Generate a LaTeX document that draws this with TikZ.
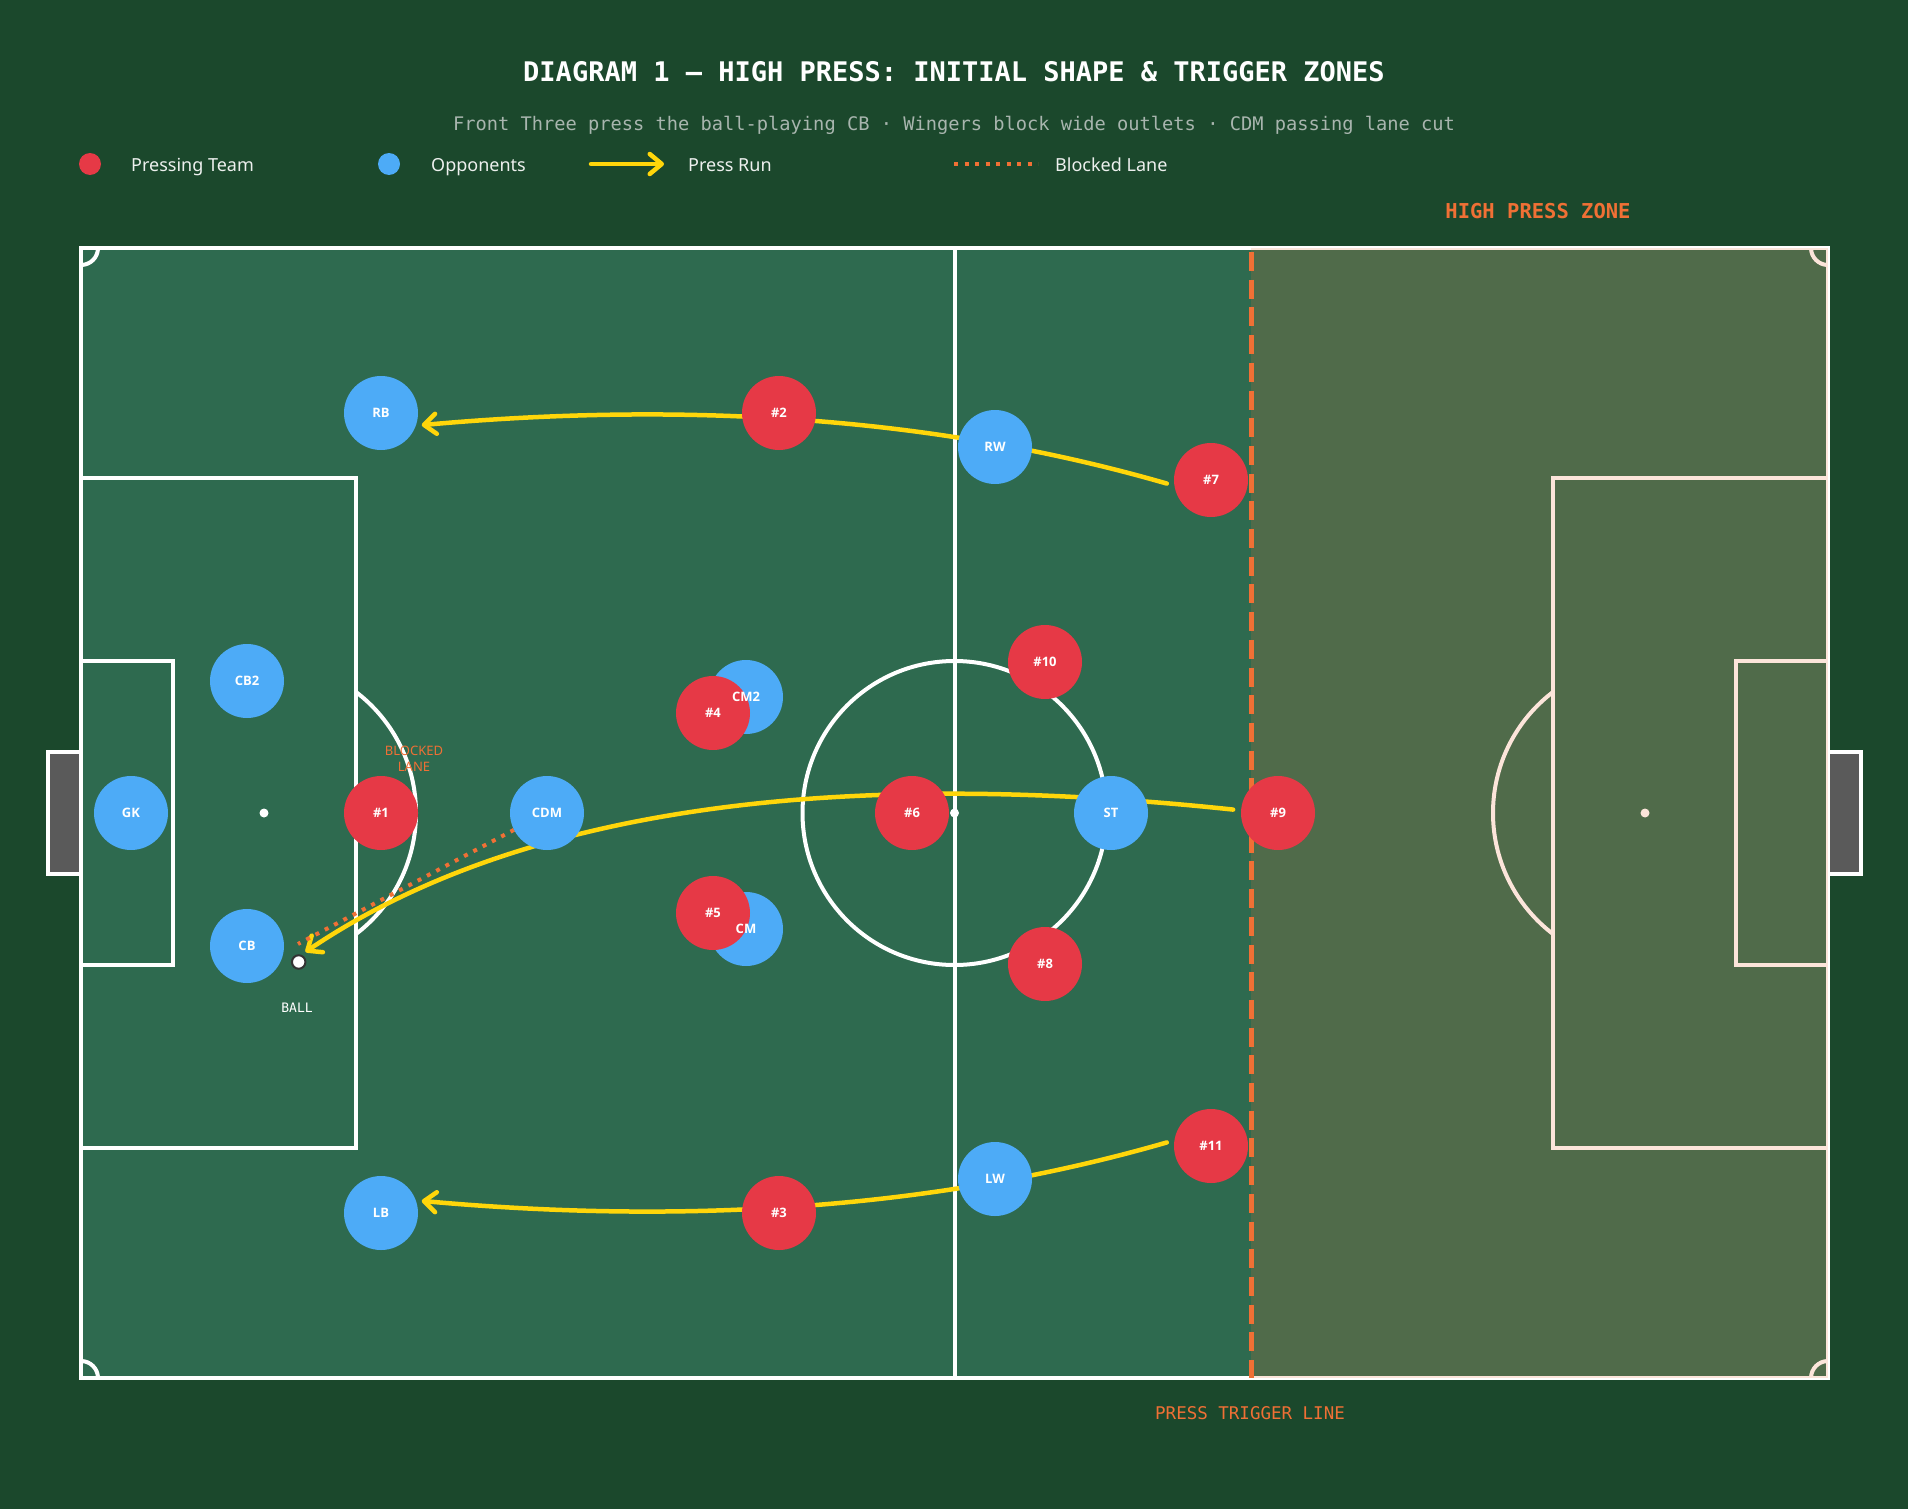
\documentclass[tikz,border=0pt]{standalone}
\usepackage{fontspec}
\setmainfont{Noto Sans}
\setmonofont{DejaVu Sans Mono}
\newfontfamily\tagfont{Open Sans}
\usetikzlibrary{arrows.meta}

\definecolor{bg}{HTML}{1B482C}
\definecolor{grass}{HTML}{2E6A4F}
\definecolor{pressred}{HTML}{E63946}
\definecolor{oppblue}{HTML}{4DABF7}
\definecolor{runyellow}{HTML}{FFD60A}
\definecolor{laneorange}{HTML}{F07035}
\definecolor{subgray}{HTML}{A8B5AE}
\definecolor{goalgray}{HTML}{5A5A5A}

\pgfdeclarelayer{pitch}
\pgfdeclarelayer{runs}
\pgfsetlayers{pitch,runs,main}

\begin{document}
\begin{tikzpicture}[x=1pt, y=-1pt,
    line/.style={white, line width=4pt},
    player/.style={circle, minimum size=74pt, inner sep=0pt, outer sep=0pt},
    press/.style={player, fill=pressred},
    opp/.style={player, fill=oppblue},
    tag/.style={text=white, font=\tagfont\bfseries\fontsize{13}{15}\selectfont},
    legtext/.style={anchor=base west, inner sep=0pt, text=white!92!bg, font=\fontsize{18}{20}\selectfont},
    run/.style={runyellow, line width=4.5pt, line cap=round, -{Straight Barb[length=12pt, width=20pt, round]}},
    lane/.style={laneorange, line width=4pt, dash pattern=on 4pt off 6.5pt}]

  \useasboundingbox (0,0) rectangle (1908,1509);

  % pitch
  \begin{pgfonlayer}{pitch}
    \fill[bg] (0,0) rectangle (1908,1509);
    \fill[grass] (81,248) rectangle (1828,1378);
    \filldraw[fill=goalgray, draw=white, line width=4pt] (48,752) rectangle (81,874);
    \filldraw[fill=goalgray, draw=white, line width=4pt] (1828,752) rectangle (1861,874);
    \draw[line] (81,248) rectangle (1828,1378);
    \draw[line] (954.5,248) -- (954.5,1378);
    \draw[line] (954.5,813) circle[radius=152];
    \draw[line] (81,478) rectangle (356,1148);
    \draw[line] (81,661) rectangle (173,965);
    \draw[line] (1553,478) rectangle (1828,1148);
    \draw[line] (1736,661) rectangle (1828,965);
    \foreach \x in {264,954.5,1645}
      \fill[white] (\x,813) circle[radius=4.5];
    \begin{scope}
      \clip (356,600) rectangle (520,1030);
      \draw[line] (264,813) circle[radius=152];
    \end{scope}
    \begin{scope}
      \clip (1553,600) rectangle (1390,1030);
      \draw[line] (1645,813) circle[radius=152];
    \end{scope}
    \begin{scope}
      \clip (81,248) rectangle (1828,1378);
      \foreach \cx/\cy in {81/248, 1828/248, 81/1378, 1828/1378}
        \draw[line] (\cx,\cy) circle[radius=17];
    \end{scope}
    % high press zone
    \fill[laneorange, fill opacity=0.18] (1251,248) rectangle (1828,1378);
    \draw[laneorange, line width=5pt, dash pattern=on 19pt off 8.7pt] (1251,252) -- (1251,1378);
  \end{pgfonlayer}

  % titles and legend
  \node[white, font=\ttfamily\bfseries\fontsize{27}{30}\selectfont] (title) at (954,72)
    {DIAGRAM 1 — HIGH PRESS: INITIAL SHAPE \& TRIGGER ZONES};
  \node[anchor=base, subgray, font=\ttfamily\fontsize{18.7}{22}\selectfont] (subtitle) at (954,131)
    {Front Three press the ball-playing CB · Wingers block wide outlets · CDM passing lane cut};
  \fill[pressred] (90,164) circle[radius=11];
  \node[legtext] at (131,171) {Pressing Team};
  \fill[oppblue] (389,164) circle[radius=11];
  \node[legtext] at (431,171) {Opponents};
  \draw[run] (591,164) -- (664,164);
  \node[legtext] at (688,171) {Press Run};
  \draw[lane] (954,164) -- (1038,164);
  \node[legtext] at (1055,171) {Blocked Lane};

  \node[anchor=base, text=laneorange, font=\ttfamily\bfseries\fontsize{20.5}{24}\selectfont] (zone) at (1538,218) {HIGH PRESS ZONE};
  \node[anchor=base, text=laneorange, font=\ttfamily\fontsize{17.5}{20}\selectfont] (trigger) at (1250,1419) {PRESS TRIGGER LINE};

  % players
  \foreach \nm/\x/\y in {GK/131/813, CB2/247/681, CB/247/946, CDM/547/813, CM2/746/697, CM/746/929,
                         RB/381/413, LB/381/1213, RW/995/447, LW/995/1179, ST/1111/813}
    \node[opp] (\nm) at (\x,\y) {};
  \foreach \n/\x/\y in {1/381/813, 2/779/413, 3/779/1213, 4/713/713, 5/713/913, 6/912/813,
                        7/1211/480, 8/1045/964, 9/1278/813, 10/1045/662, 11/1211/1146}
    \node[press] (p\n) at (\x,\y) {};
  \foreach \nm in {GK, CB2, CB, CDM, CM2, CM, RB, LB, RW, LW, ST}
    \node[tag] at (\nm) {\nm};
  \foreach \n in {1,...,11}
    \node[tag] at (p\n) {\#\n};

  \node[circle, fill=white, draw=black!80, line width=2pt, minimum size=13.5pt, inner sep=0pt] (ball) at (298.7,962) {};
  \node[anchor=base, white, font=\ttfamily\fontsize{13}{15}\selectfont] (balltag) at (297,1012) {BALL};
  \node[anchor=base, text=laneorange, font=\fontsize{13}{15}\selectfont] (lanetag) at (414,755) {BLOCKED};
  \node[anchor=base, text=laneorange, font=\fontsize{13}{15}\selectfont] at (414,771) {LANE};
  \coordinate (laneEnd) at (298,944);

  % press runs
  \begin{pgfonlayer}{runs}
    \draw[run, shorten <=8pt, shorten >=6pt] (p7.189) .. controls (947,420) and (699,400) .. (RB.-20);
    \draw[run, shorten <=8pt, shorten >=6pt] (p11.171) .. controls (947,1206) and (699,1226) .. (LB.20);
    \draw[run, shorten <=8pt, shorten >=5pt] (p9.176) .. controls (822,766) and (512,812) .. (ball.70);
    \draw[lane] (CDM.207) -- (laneEnd);
  \end{pgfonlayer}
\end{tikzpicture}
\end{document}
